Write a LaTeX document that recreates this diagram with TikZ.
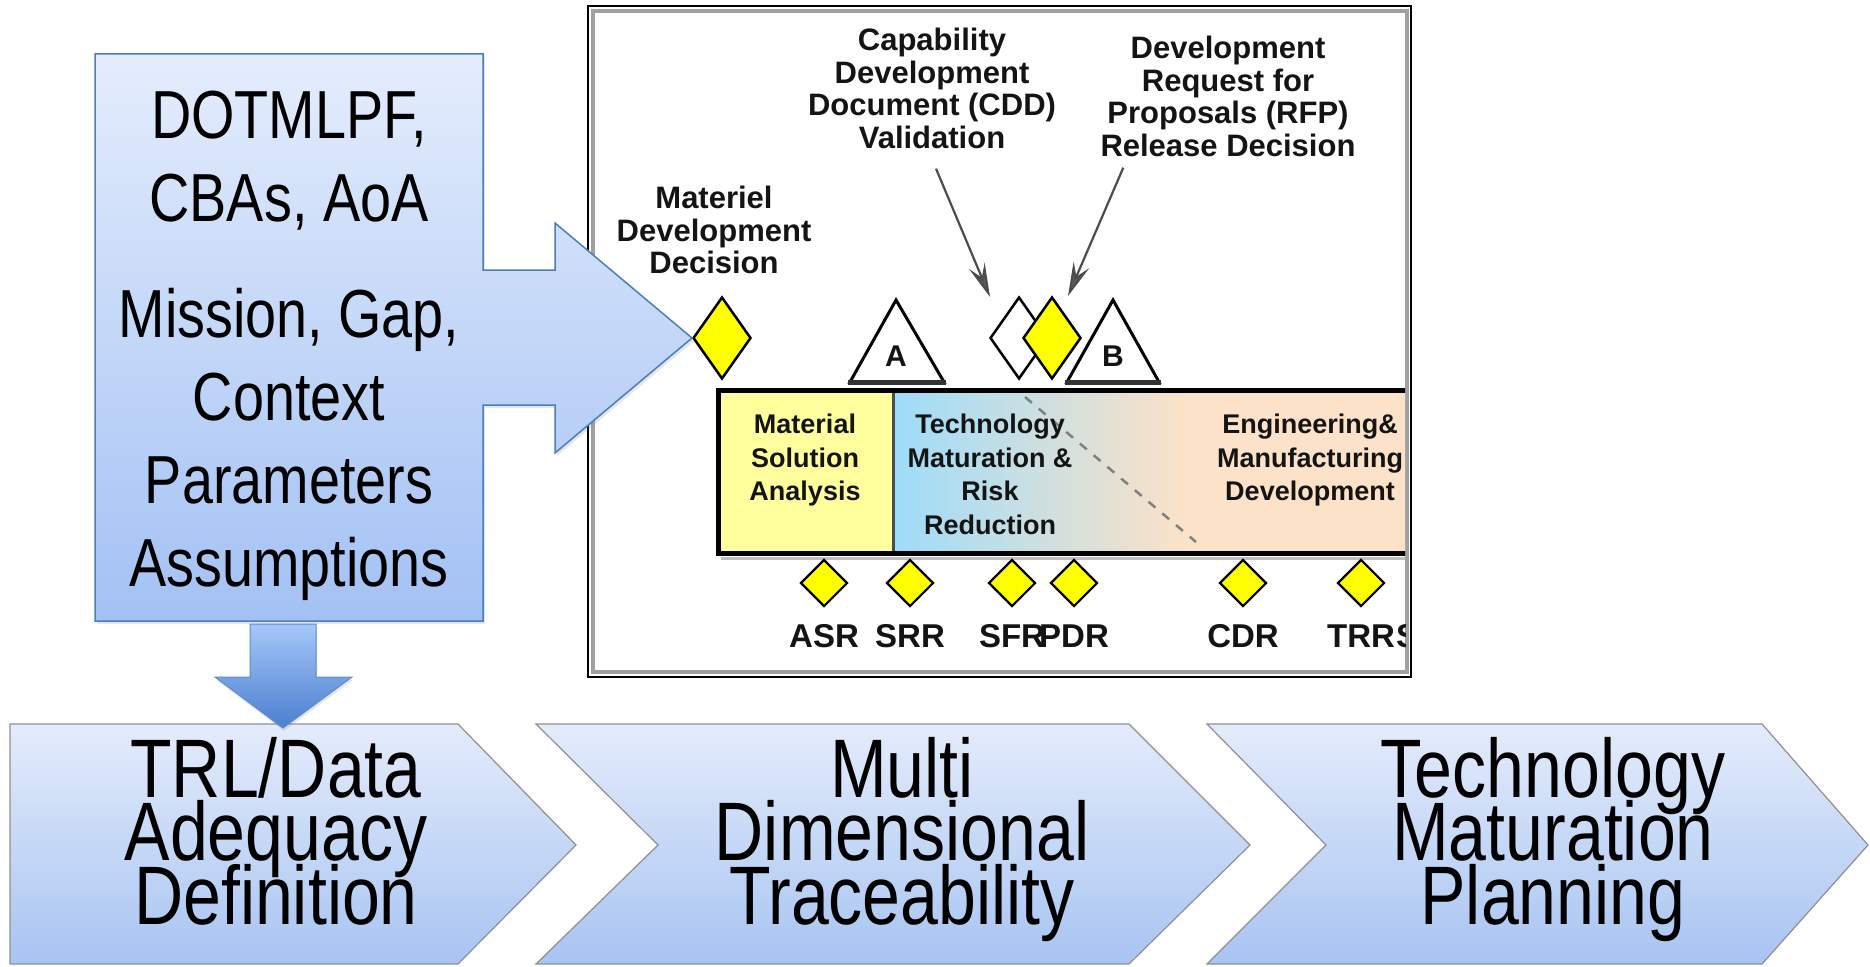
\documentclass[tikz,border=0pt]{standalone}
\usepackage{fontspec}
\setmainfont{Liberation Sans}
\newfontfamily\narrowsans{Liberation Sans}[FakeStretch=0.82]
\usetikzlibrary{shapes.geometric,arrows.meta,shadows}

\definecolor{boxtop}{HTML}{E4EDFC}
\definecolor{boxbottom}{HTML}{A3C1F4}
\definecolor{boxedge}{HTML}{4A7EBB}
\definecolor{chevtop}{HTML}{E4ECFB}
\definecolor{chevbottom}{HTML}{A8C4F2}
\definecolor{chevedge}{HTML}{8F8F8F}
\definecolor{droptop}{HTML}{A6C7F8}
\definecolor{dropbottom}{HTML}{4A7FD0}
\definecolor{dropedge}{HTML}{5B8BD3}
\definecolor{msafill}{HTML}{FFFF9E}
\definecolor{tmrrblue}{HTML}{9EDCF9}
\definecolor{emdpeach}{HTML}{FCE2C8}
\definecolor{msyellow}{HTML}{FFFF00}
\definecolor{framegray}{HTML}{A0A0A0}
\definecolor{charttext}{HTML}{141414}

\newcommand\stagefont{\narrowsans\fontsize{83}{63.5}\selectfont\lineskiplimit=-100pt\relax}

\tikzset{
  callout/.style={draw=boxedge, line width=1.5pt, top color=boxtop, bottom color=boxbottom,
    drop shadow={shadow xshift=2pt, shadow yshift=-3pt, opacity=0.2}},
  dropdown/.style={draw=dropedge, line width=1pt, top color=droptop, bottom color=dropbottom,
    drop shadow={shadow xshift=1pt, shadow yshift=-3pt, opacity=0.2}},
  chevron/.style={draw=chevedge, line width=1.2pt, top color=chevtop, bottom color=chevbottom},
  bigtext/.style={font=\narrowsans\fontsize{68}{83}\selectfont, align=center, inner sep=0pt, anchor=north},
  stagetext/.style={font=\stagefont, align=center, inner sep=0pt, anchor=north},
  chartlabel/.style={font=\bfseries\fontsize{31}{32.5}\selectfont, text=charttext, align=center, inner sep=0pt, anchor=north},
  phasetext/.style={font=\bfseries\fontsize{27}{33.5}\selectfont, text=charttext, align=center, inner sep=0pt, anchor=north},
  reviewtext/.style={font=\bfseries\fontsize{33}{33}\selectfont, text=charttext, inner sep=0pt, anchor=base},
  gateletter/.style={font=\bfseries\fontsize{30}{30}\selectfont, text=charttext, inner sep=0pt},
  decision/.style={diamond, draw, line width=2.5pt, fill=msyellow, inner sep=0pt, minimum width=58pt, minimum height=82pt},
  review/.style={decision, line width=2.2pt, minimum width=47pt, minimum height=47pt},
  gate/.style={draw, line width=3pt, fill=white, line join=miter},
  gatebase/.style={draw=black!80, line width=5pt},
  pointer/.style={draw=black!70, line width=2.2pt, -{Stealth[length=34pt, width=17pt, inset=13pt, fill=black!65]}}
}

\begin{document}
\begin{tikzpicture}[x=1pt,y=-1pt]
\useasboundingbox (0,0) rectangle (1870,966);

% acquisition chart
\draw[line width=2pt] (588,6) rectangle (1411,677);
\draw[framegray, line width=4pt] (593,11) rectangle (1407,672);
\begin{scope}
\clip (595,13) rectangle (1405,670);
% phases
\fill[msafill] (718,390) rectangle (893,553);
\shade[left color=tmrrblue, right color=emdpeach] (893,390) rectangle (1185,553);
\fill[emdpeach] (1185,390) rectangle (1420,553);
\draw[gray, line width=2.5pt, dash pattern=on 9pt off 9pt] (1025,397) -- (1196,542);
\draw[black!70, line width=3pt] (893,390) -- (893,553);
\draw[line width=5pt] (1420,390) -- (718,390) -- (718,553) -- (1420,553);
\draw[gray!50, line width=3pt] (721,558) -- (1420,558);
\node[phasetext] (msa) at (805,414) {Material\\Solution\\Analysis};
\node[phasetext] (tmrr) at (990,414) {Technology\\Maturation \&\\Risk\\Reduction};
\node[phasetext] (emd) at (1310,414) {Engineering\&\\Manufacturing\\Development};
% milestones
\node[chartlabel] (mddtext) at (714,186) {Materiel\\Development\\Decision};
\node[chartlabel] (cdd) at (932,28) {Capability\\Development\\Document (CDD)\\Validation};
\node[chartlabel] (rfp) at (1228,36) {Development\\Request for\\Proposals (RFP)\\Release Decision};
\node[decision] (mdd) at (722,338) {};
\draw[gate] (896,300) -- (944,382) -- (850,382) -- cycle;
\draw[gatebase] (848,382) -- (946,382);
\node[gateletter] (msA) at (896,356) {A};
\draw[gate] (1113,300) -- (1159,382) -- (1067,382) -- cycle;
\draw[gatebase] (1065,382) -- (1161,382);
\node[gateletter] (msB) at (1113,356) {B};
\node[decision, fill=white] (cddmark) at (1019,338) {};
\node[decision] (rfpmark) at (1052,338) {};
\coordinate (cddtip) at (990,297);
\coordinate (rfptip) at (1068,296);
\draw[pointer] ([xshift=4pt,yshift=-20pt]cdd.south) -- (cddtip);
\draw[pointer] ([xshift=23pt,yshift=-11pt]rfp.south west) -- (rfptip);
% technical reviews
\foreach \x/\name in {824/ASR,910/SRR,1012/SFR,1074/PDR,1243/CDR,1361/TRR}{
  \node[review] (\name) at (\x,583) {};
  \node[reviewtext] (\name text) at (\x,647) {\name};
}
\node[review] (next) at (1431,583) {};
\node[reviewtext, anchor=base west] (nexttext) at (1396,647) {S};
\end{scope}

% inputs callout
\draw[callout] (95,54) -- (483,54) -- (483,270) -- (555,270) -- (555,223) -- (692,338)
  -- (555,453) -- (555,405) -- (483,405) -- (483,621) -- (95,621) -- cycle;
\node[bigtext] (inputs) at (289,91) {DOTMLPF,\\CBAs, AoA\\[33pt]Mission, Gap,\\Context\\Parameters\\Assumptions};

% process steps
\draw[chevron] (10,724) -- (458,724) -- (576,845) -- (458,964) -- (10,964) -- cycle;
\draw[chevron] (536,724) -- (1129,724) -- (1250,845) -- (1129,964) -- (536,964) -- (658,845) -- cycle;
\draw[chevron] (1207,724) -- (1762,724) -- (1868,845) -- (1762,964) -- (1207,964) -- (1326,845) -- cycle;
\node[stagetext] (trl) at (276,737) {TRL/Data\\Adequacy\\Definition};
\node[stagetext] (mdt) at (902,737) {Multi\\Dimensional\\Traceability};
\node[stagetext] (tmp) at (1553,737) {Technology\\Maturation\\Planning};

\draw[dropdown] (250,624) -- (316,624) -- (316,677) -- (352,677) -- (283,728) -- (215,677) -- (250,677) -- cycle;

\end{tikzpicture}
\end{document}
